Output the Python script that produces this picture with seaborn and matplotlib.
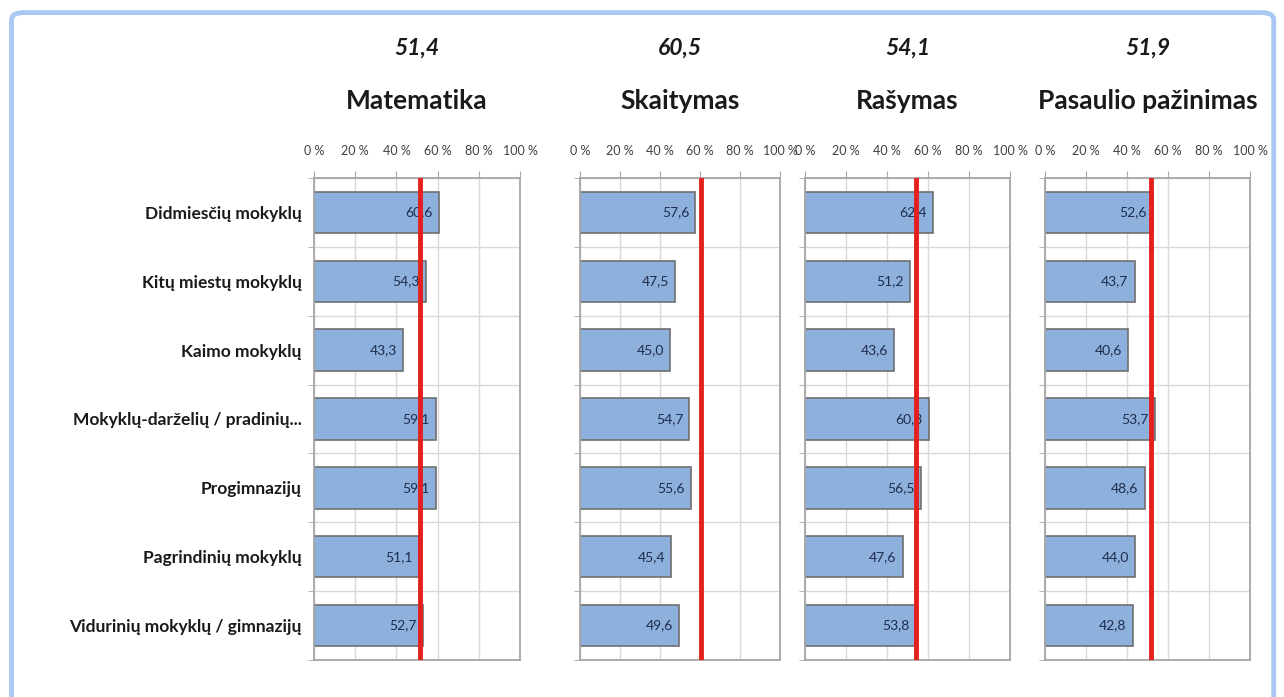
import numpy as np
import pandas as pd
import seaborn as sns
import matplotlib.pyplot as plt
from matplotlib.patches import FancyBboxPatch

# duomenys
categories = ["Didmiesčių mokyklų", "Kitų miestų mokyklų", "Kaimo mokyklų",
              "Mokyklų-darželių / pradinių...", "Progimnazijų",
              "Pagrindinių mokyklų", "Vidurinių mokyklų / gimnazijų"]
subjects = ["Matematika", "Skaitymas", "Rašymas", "Pasaulio pažinimas"]
averages = [51.4, 60.5, 54.1, 51.9]
matematika = [60.6, 54.3, 43.3, 59.1, 59.1, 51.1, 52.7]
skaitymas = [57.6, 47.5, 45.0, 54.7, 55.6, 45.4, 49.6]
rasymas = [62.4, 51.2, 43.6, 60.3, 56.5, 47.6, 53.8]
pasaulio = [52.6, 43.7, 40.6, 53.7, 48.6, 44.0, 42.8]
x_ticks = [0, 20, 40, 60, 80, 100]

sns.set_style("white")
plt.rcParams['font.family'] = ['Lato', 'DejaVu Sans']

fig = plt.figure(figsize=(12.84, 6.97), dpi=100)

# remelis
frame = FancyBboxPatch((0.009, -0.05), 0.983, 1.032, boxstyle="round,pad=0,rounding_size=0.01",
                       transform=fig.transFigure, fill=False, edgecolor='#a9c9f2', lw=3.5)
fig.patches.append(frame)

H = 697
W = 1284
lefts = [314, 580, 805, 1045]
widths = [206, 200, 205, 205]
top_px, bot_px = 178, 660

all_vals = [matematika, skaitymas, rasymas, pasaulio]
grid_c = '#d9d9d9'
spine_c = '#a6a6a6'

for k, (subj, avg, vals) in enumerate(zip(subjects, averages, all_vals)):
    ax = fig.add_axes([lefts[k] / W, 1 - bot_px / H, widths[k] / W, (bot_px - top_px) / H])
    df = pd.DataFrame({"kategorija": categories, "reiksme": vals})
    sns.barplot(data=df, x="reiksme", y="kategorija", ax=ax, color='#8db0dc',
                edgecolor='#6f6f6f', linewidth=1.2, width=0.6, saturation=1)
    ax.set_xlim(0, 100)
    ax.set_ylim(6.5, -0.5)
    ax.set_xlabel("")
    ax.set_ylabel("")

    # tinklelis
    ax.set_xticks(x_ticks)
    ax.set_yticks(np.arange(-0.5, 7, 1), minor=True)
    ax.grid(axis='x', color=grid_c, lw=1)
    ax.grid(axis='y', which='minor', color=grid_c, lw=1)
    ax.set_axisbelow(True)
    for s in ax.spines.values():
        s.set_color(spine_c)
        s.set_linewidth(1.3)

    ax.xaxis.tick_top()
    ax.set_xticklabels([f"{t} %" for t in x_ticks], fontsize=9, color='#404040')
    ax.tick_params(axis='x', which='major', top=True, length=5, color=spine_c, pad=10)
    ax.tick_params(axis='y', which='major', length=0)
    ax.tick_params(axis='y', which='minor', left=True, length=4, color=spine_c)
    if k == 0:
        ax.set_yticklabels(categories, fontsize=12.5, fontweight='bold', color='#1a1a1a')
        ax.tick_params(axis='y', pad=9)
    else:
        ax.set_yticklabels([])

    # reiksmes
    for i, v in enumerate(vals):
        ax.text(v - 3, i, f"{v:.1f}".replace('.', ','), ha='right', va='center',
                fontsize=10, color='#1f2d4d')

    ax.axvline(avg, color='#e3201b', lw=3.5, zorder=5)

    cx = (lefts[k] + widths[k] / 2) / W
    fig.text(cx, 1 - 48 / H, f"{avg:.1f}".replace('.', ','), ha='center', va='center',
             fontsize=16.5, fontweight='bold', fontstyle='italic', color='#1a1a1a')
    fig.text(cx, 1 - 101 / H, subj, ha='center', va='center',
             fontsize=19, fontweight='bold', color='#1a1a1a')

fig.savefig("out.png", dpi=100)
